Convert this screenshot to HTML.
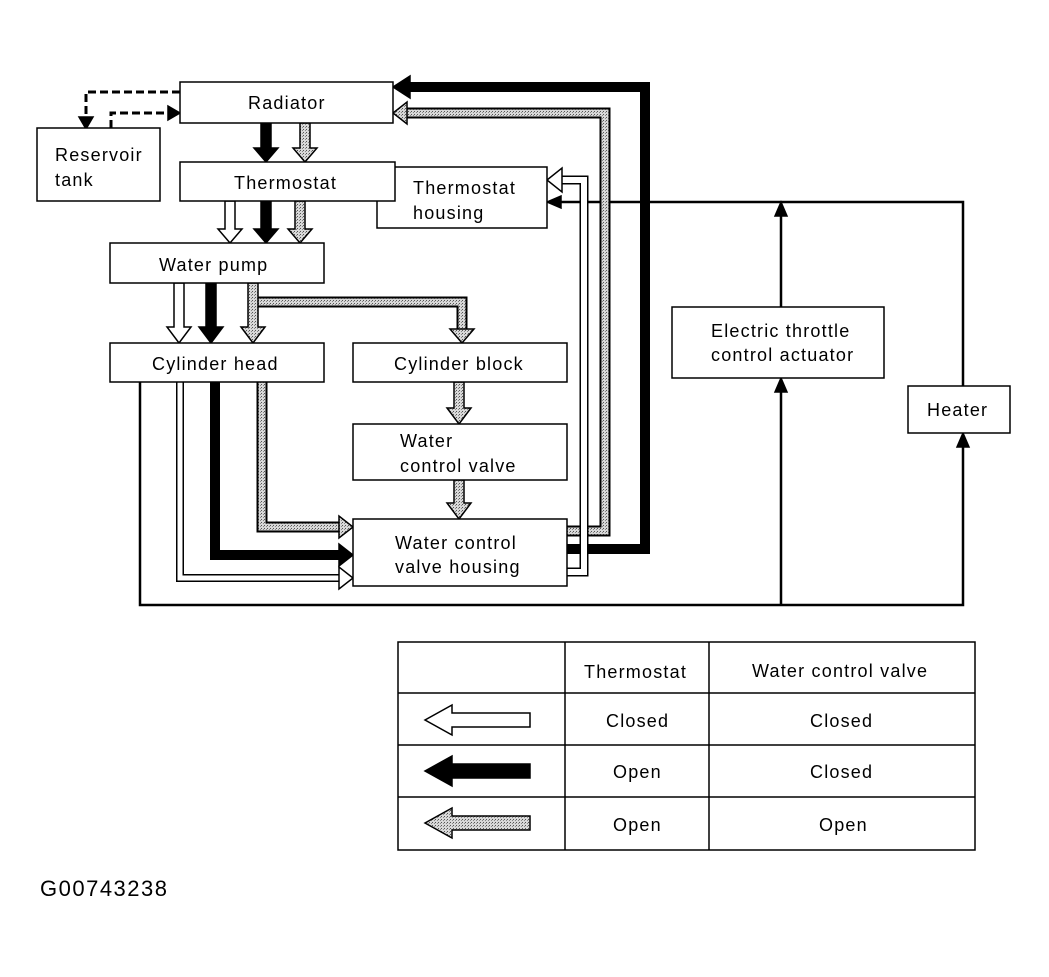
<!DOCTYPE html>
<html><head><meta charset="utf-8"><style>
body{margin:0;background:#fff}
svg text{font-family:"Liberation Sans",Arial,sans-serif;font-size:18px;letter-spacing:1.2px;fill:#000}
</style></head><body>
<svg width="1049" height="972" viewBox="0 0 1049 972" xmlns="http://www.w3.org/2000/svg">
<defs>
<pattern id="g" width="3" height="3" patternUnits="userSpaceOnUse"><rect width="3" height="3" fill="#d8d8d8"/><rect width="1" height="1" fill="#555"/><rect x="2" y="1" width="1" height="1" fill="#888"/></pattern>
</defs>
<g fill="#fff" stroke="#000" stroke-width="1.5">
<polyline points="180,92 86,92 86,118" fill="none" stroke-width="3" stroke-dasharray="8,4"/>
<polygon points="79,117 93,117 86,129" fill="#000"/>
<polyline points="111,128 111,113 168,113" fill="none" stroke-width="3" stroke-dasharray="8,4"/>
<polygon points="168,106 168,120 180,113" fill="#000"/>

<polyline points="140,382 140,605 963,605 963,446" fill="none" stroke-width="2.5"/>
<polygon points="957,447 969,447 963,433" fill="#000"/>
<polyline points="781,605 781,391" fill="none" stroke-width="2.5"/>
<polygon points="775,392 787,392 781,378" fill="#000"/>
<polyline points="781,307 781,215" fill="none" stroke-width="2.5"/>
<polygon points="775,216 787,216 781,202" fill="#000"/>
<polyline points="963,386 963,202 560,202" fill="none" stroke-width="2.5"/>
<polygon points="561,196 561,208 547,202" fill="#000"/>

<polyline points="262,382 262,527 340,527" fill="none" stroke="#000" stroke-width="11"/>
<polyline points="262,382 262,527 341,527" fill="none" stroke="url(#g)" stroke-width="7"/>
<polygon points="339,516 339,538 353,527" fill="url(#g)"/>
<polyline points="215,382 215,555 340,555" fill="none" stroke="#000" stroke-width="10"/>
<polygon points="339,544 339,566 353,555" fill="#000"/>
<polyline points="180,382 180,578 340,578" fill="none" stroke="#000" stroke-width="8"/>
<polyline points="180,382 180,578 341,578" fill="none" stroke="#fff" stroke-width="5"/>
<polygon points="339,567 339,589 353,578" fill="#fff"/>

<polyline points="567,531 605,531 605,113 406,113" fill="none" stroke="#000" stroke-width="11"/>
<polyline points="567,531 605,531 605,113 405,113" fill="none" stroke="url(#g)" stroke-width="7"/>
<polygon points="407,102 407,124 393,113" fill="url(#g)"/>
<polyline points="567,549 645,549 645,87 408,87" fill="none" stroke="#000" stroke-width="10"/>
<polygon points="410,76 410,98 393,87" fill="#000"/>
<polyline points="567,572 584,572 584,180 561,180" fill="none" stroke="#000" stroke-width="9"/>
<polyline points="567,572 584,572 584,180 560,180" fill="none" stroke="#fff" stroke-width="6"/>
<polygon points="562,168 562,192 547,180" fill="#fff"/>

<polyline points="253,302 462,302 462,330" fill="none" stroke="#000" stroke-width="11"/>
<polyline points="253,302 462,302 462,331" fill="none" stroke="url(#g)" stroke-width="7"/>

<polygon points="261,123 271,123 271,148 278,148 266,162 254,148 261,148" fill="#000"/>
<polygon points="300,123 310,123 310,148 317,148 305,162 293,148 300,148" fill="url(#g)"/>
<polygon points="225,201 235,201 235,229 242,229 230,243 218,229 225,229" fill="#fff"/>
<polygon points="261,201 271,201 271,229 278,229 266,243 254,229 261,229" fill="#000"/>
<polygon points="295,201 305,201 305,229 312,229 300,243 288,229 295,229" fill="url(#g)"/>
<polygon points="174,283 184,283 184,327 191,327 179,343 167,327 174,327" fill="#fff"/>
<polygon points="206,283 216,283 216,327 223,327 211,343 199,327 206,327" fill="#000"/>
<polygon points="248,283 258,283 258,327 265,327 253,343 241,327 248,327" fill="url(#g)"/>
<polygon points="450,329 474,329 462,343" fill="url(#g)"/>
<polygon points="454,382 464,382 464,408 471,408 459,424 447,408 454,408" fill="url(#g)"/>
<polygon points="454,480 464,480 464,503 471,503 459,519 447,503 454,503" fill="url(#g)"/>

<rect x="180" y="82" width="213" height="41"/>
<rect x="37" y="128" width="123" height="73"/>
<rect x="377" y="167" width="170" height="61"/>
<rect x="180" y="162" width="215" height="39"/>
<rect x="110" y="243" width="214" height="40"/>
<rect x="110" y="343" width="214" height="39"/>
<rect x="353" y="343" width="214" height="39"/>
<rect x="353" y="424" width="214" height="56"/>
<rect x="353" y="519" width="214" height="67"/>
<rect x="672" y="307" width="212" height="71"/>
<rect x="908" y="386" width="102" height="47"/>

<rect x="398" y="642" width="577" height="208"/>
<line x1="565" y1="642" x2="565" y2="850"/>
<line x1="709" y1="642" x2="709" y2="850"/>
<line x1="398" y1="693" x2="975" y2="693"/>
<line x1="398" y1="745" x2="975" y2="745"/>
<line x1="398" y1="797" x2="975" y2="797"/>
<polygon points="530,713 452,713 452,705 425,720 452,735 452,727 530,727" fill="#fff"/>
<polygon points="530,764 452,764 452,756 425,771 452,786 452,778 530,778" fill="#000"/>
<polygon points="530,816 452,816 452,808 425,823 452,838 452,830 530,830" fill="url(#g)"/>
</g>

<text x="248" y="109">Radiator</text>
<text x="55" y="161">Reservoir</text>
<text x="55" y="186">tank</text>
<text x="234" y="189">Thermostat</text>
<text x="413" y="194">Thermostat</text>
<text x="413" y="219">housing</text>
<text x="159" y="271">Water pump</text>
<text x="152" y="370">Cylinder head</text>
<text x="394" y="370">Cylinder block</text>
<text x="400" y="447">Water</text>
<text x="400" y="472">control valve</text>
<text x="395" y="549">Water control</text>
<text x="395" y="573">valve housing</text>
<text x="711" y="337">Electric throttle</text>
<text x="711" y="361">control actuator</text>
<text x="927" y="416">Heater</text>
<text x="584" y="678">Thermostat</text>
<text x="752" y="677">Water control valve</text>
<text x="606" y="727">Closed</text>
<text x="810" y="727">Closed</text>
<text x="613" y="778">Open</text>
<text x="810" y="778">Closed</text>
<text x="613" y="831">Open</text>
<text x="819" y="831">Open</text>
<text x="40" y="896" style="font-size:22px;letter-spacing:1.5px">G00743238</text>
</svg>
</body></html>
